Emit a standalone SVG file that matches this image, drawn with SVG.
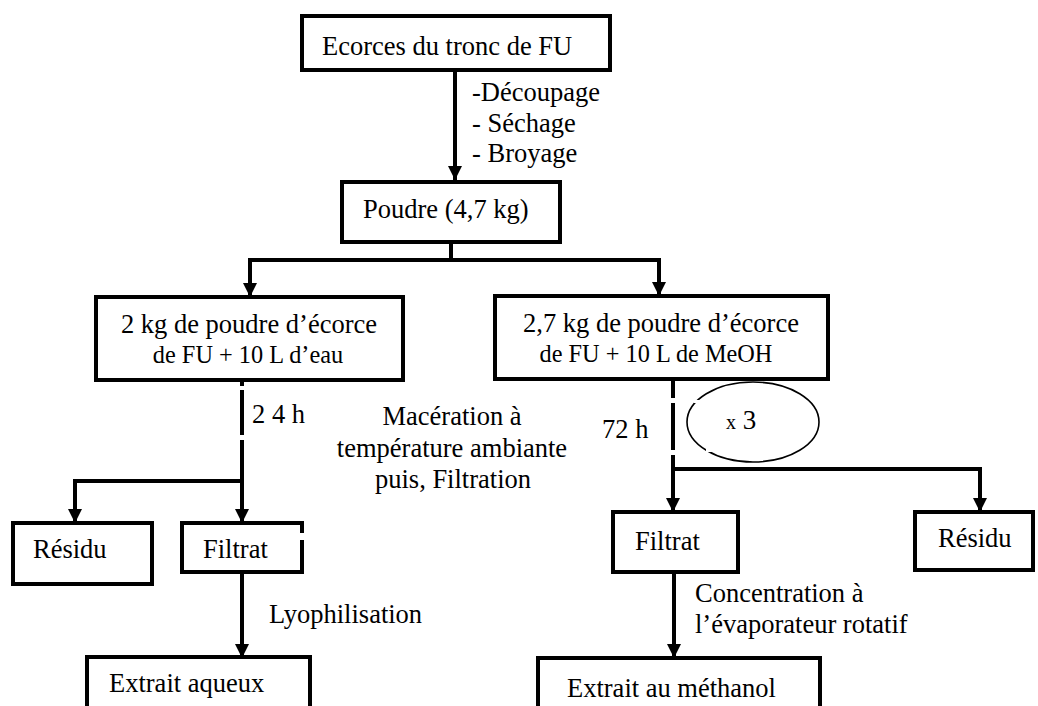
<svg xmlns="http://www.w3.org/2000/svg" width="1038" height="706" viewBox="0 0 1038 706">
<style>
text{font-family:"Liberation Serif","Times New Roman",serif;font-size:26.5px;fill:#000}
.s{font-size:24.3px}
.box{fill:#fff;stroke:#000;stroke-width:4}
.con{fill:none;stroke:#000;stroke-width:4}
.gap{fill:#fff;stroke:none}
</style>
<defs>
<marker id="ah" markerUnits="userSpaceOnUse" markerWidth="15" markerHeight="15" refX="14" refY="7.5" orient="auto" viewBox="0 0 15 15">
<path d="M0,0.5 L14,7.5 L0,14.5 z" fill="#000"/>
</marker>
</defs>
<rect width="1038" height="706" fill="#fff"/>
<g id="connectors">
<path class="con" d="M455,70 V180" marker-end="url(#ah)"/>
<path class="con" d="M451,242 V260"/>
<path class="con" d="M248,260 H659"/>
<path class="con" d="M250,258 V297" marker-end="url(#ah)"/>
<path class="con" d="M659,258 V296" marker-end="url(#ah)"/>
<path class="con" d="M242,380 V481"/>
<path class="con" d="M75,481 H244"/>
<path class="con" d="M75,479 V523" marker-end="url(#ah)"/>
<path class="con" d="M242,481 V523" marker-end="url(#ah)"/>
<path class="con" d="M242,572 V658" marker-end="url(#ah)"/>
<path class="con" d="M673,379 V469"/>
<path class="con" d="M671,469 H982"/>
<path class="con" d="M673,467 V512" marker-end="url(#ah)"/>
<path class="con" d="M980,467 V512" marker-end="url(#ah)"/>
<path class="con" d="M674,572 V658" marker-end="url(#ah)"/>
</g>
<g id="node-ecorces">
<rect class="box" x="302" y="16" width="308" height="54"/>
<text x="322" y="55">Ecorces du tronc de FU</text>
</g>
<g id="label-pretraitement">
<text x="472" y="101">-Découpage</text>
<text x="472" y="132">- Séchage</text>
<text x="472" y="162">- Broyage</text>
</g>
<g id="node-poudre">
<rect class="box" x="342" y="182" width="218" height="60"/>
<text x="363" y="218">Poudre (4,7 kg)</text>
</g>
<g id="node-eau">
<rect class="box" x="96" y="297" width="307" height="83"/>
<text x="249" y="333" text-anchor="middle">2 kg de poudre d’écorce</text>
<text class="s" x="248" y="363" text-anchor="middle">de FU + 10 L d’eau</text>
</g>
<g id="node-meoh">
<rect class="box" x="495" y="296" width="333" height="83"/>
<text x="661" y="332" text-anchor="middle">2,7 kg de poudre d’écorce</text>
<text class="s" x="656" y="362" text-anchor="middle">de FU + 10 L de MeOH</text>
</g>
<g id="label-24h">
<text x="252" y="423">2 4 h</text>
</g>
<g id="label-maceration">
<text x="452" y="425" text-anchor="middle">Macération à</text>
<text x="452" y="457" text-anchor="middle">température ambiante</text>
<text x="453" y="488" text-anchor="middle">puis, Filtration</text>
</g>
<g id="label-72h">
<text x="602" y="438">72 h</text>
</g>
<g id="node-x3">
<ellipse cx="753" cy="422" rx="66" ry="40" fill="none" stroke="#000" stroke-width="1.6"/>
<text x="726" y="429"><tspan font-size="20">x</tspan> <tspan font-size="27">3</tspan></text>
</g>
<g id="gaps">
<rect class="gap" x="238" y="386" width="8" height="4"/>
<rect class="gap" x="238" y="435" width="8" height="5"/>
<rect class="gap" x="669" y="398" width="8" height="5"/>
<rect class="gap" x="669" y="450" width="8" height="5"/>
<rect class="gap" x="694" y="400" width="6" height="3"/>
<rect class="gap" x="706" y="449" width="6" height="3"/>
</g>
<g id="node-residu-gauche">
<rect class="box" x="13" y="523" width="139" height="61"/>
<text x="33" y="558">Résidu</text>
</g>
<g id="node-filtrat-gauche">
<rect class="box" x="182" y="523" width="120" height="49"/>
<rect class="gap" x="299" y="533" width="6" height="7"/>
<text x="203" y="558">Filtrat</text>
</g>
<g id="label-lyophilisation">
<text x="269" y="623">Lyophilisation</text>
</g>
<g id="node-extrait-aqueux">
<rect class="box" x="87" y="657" width="223" height="70"/>
<text x="109" y="692">Extrait aqueux</text>
</g>
<g id="node-filtrat-droite">
<rect class="box" x="613" y="512" width="125" height="60"/>
<text x="635" y="550">Filtrat</text>
</g>
<g id="node-residu-droite">
<rect class="box" x="915" y="512" width="118" height="58"/>
<text x="938" y="547">Résidu</text>
</g>
<g id="label-concentration">
<text x="695" y="602">Concentration à</text>
<text x="695" y="633">l’évaporateur rotatif</text>
</g>
<g id="node-extrait-methanol">
<rect class="box" x="538" y="658" width="282" height="70"/>
<text x="567" y="697">Extrait au méthanol</text>
</g>
</svg>
